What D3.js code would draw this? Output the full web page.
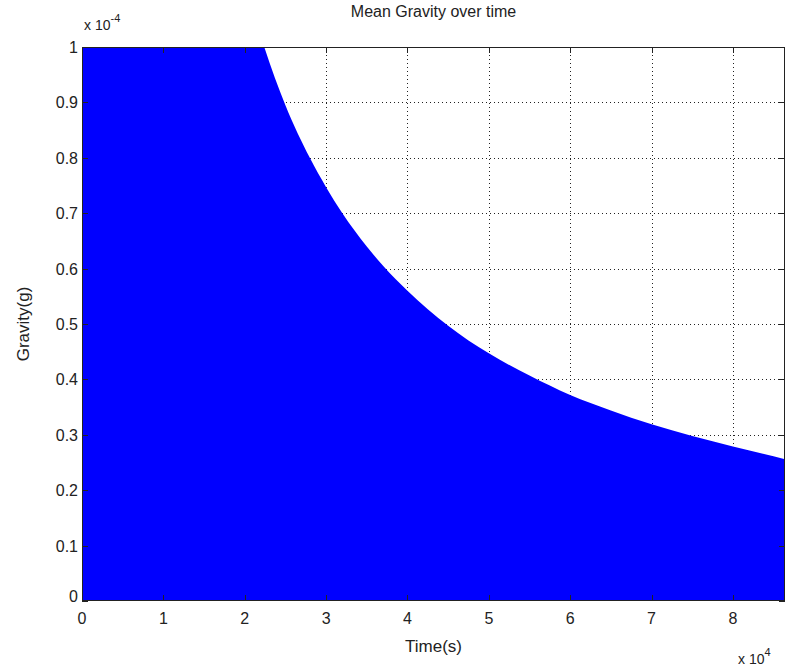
<!DOCTYPE html>
<html>
<head>
<meta charset="utf-8">
<script src="https://cdn.jsdelivr.net/npm/d3@7"></script>
<style>
  body { margin: 0; background: #fff; }
  svg { display: block; }
  text { font-family: "Liberation Sans", Arial, sans-serif; fill: #222; }
</style>
</head>
<body>
<svg id="chart" width="789" height="670"></svg>
<script>
// Time in units of 1e4 s, gravity in units of 1e-4 g
const timeValues    = [0.5, 1.0, 1.5, 2.0, 2.24, 2.5, 2.8, 3.0, 3.2, 3.5, 3.7, 4.0, 4.5, 5.0, 5.5, 6.0, 6.5, 7.0, 7.5, 8.0, 8.64];
const gravityValues = [4.5, 2.24, 1.49, 1.12, 1.0, 0.895, 0.80, 0.747, 0.70, 0.64, 0.605, 0.56, 0.497, 0.447, 0.407, 0.372, 0.344, 0.319, 0.298, 0.279, 0.256];
const xTicks = [0, 1, 2, 3, 4, 5, 6, 7, 8];
const yTicks = [0, 0.1, 0.2, 0.3, 0.4, 0.5, 0.6, 0.7, 0.8, 0.9, 1];
const xDomain = [0, 8.64];
const yDomain = [0, 1];

(function () {
const svg = d3.select("#chart");
const pL = 82, pR = 785, pT = 47, pB = 601;

const x = d3.scaleLinear().domain(xDomain).range([pL, pR]);
const y = d3.scaleLinear().domain(yDomain).range([pB, pT]);

// grid
const grid = svg.append("g").attr("stroke", "#222").attr("stroke-width", 1)
  .attr("stroke-dasharray", "1,3");
grid.selectAll(".vg").data(xTicks.filter(d => d > 0)).join("line")
  .attr("x1", d => Math.round(x(d)) + 0.5).attr("x2", d => Math.round(x(d)) + 0.5)
  .attr("y1", pT).attr("y2", pB);
grid.selectAll(".hg").data(yTicks.filter(d => d > 0 && d < 1)).join("line")
  .attr("y1", d => Math.round(y(d)) + 0.5).attr("y2", d => Math.round(y(d)) + 0.5)
  .attr("x1", pL).attr("x2", pR);

// clip
svg.append("clipPath").attr("id", "clip").append("rect")
  .attr("x", pL).attr("y", pT).attr("width", pR - pL).attr("height", pB - pT);

const data = timeValues.map((t, i) => ({t, g: gravityValues[i]}));
const fullData = [{t: 0, g: gravityValues[0]}].concat(data);

const area = d3.area()
  .x(d => x(d.t))
  .y0(y(0))
  .y1(d => y(d.g))
  .curve(d3.curveMonotoneX);

svg.append("path")
  .datum(fullData)
  .attr("clip-path", "url(#clip)")
  .attr("fill", "#0000ff")
  .attr("d", area);

// axes with inward ticks
const tickLen = 6;
const axG = svg.append("g").attr("stroke", "#222").attr("stroke-width", 1);
axG.append("rect").attr("x", pL + 0.5).attr("y", pT + 0.5)
  .attr("width", pR - pL - 1).attr("height", pB - pT - 1).attr("fill", "none");
xTicks.forEach(d => {
  const px = Math.round(x(d)) + 0.5;
  axG.append("line").attr("x1", px).attr("x2", px).attr("y1", pB).attr("y2", pB - tickLen);
  axG.append("line").attr("x1", px).attr("x2", px).attr("y1", pT).attr("y2", pT + tickLen);
});
yTicks.forEach(d => {
  const py = Math.round(y(d)) + 0.5;
  axG.append("line").attr("x1", pL).attr("x2", pL + tickLen).attr("y1", py).attr("y2", py);
  axG.append("line").attr("x1", pR).attr("x2", pR - tickLen).attr("y1", py).attr("y2", py);
});

// tick labels
svg.selectAll(".xl").data(xTicks).join("text")
  .attr("x", d => x(d)).attr("y", pB + 23)
  .attr("text-anchor", "middle").attr("font-size", 16)
  .text(d => d);
svg.selectAll(".yl").data(yTicks).join("text")
  .attr("x", pL - 4).attr("y", d => y(d) + (d === 0 ? 1 : 6))
  .attr("text-anchor", "end").attr("font-size", 16)
  .text(d => d === 0 || d === 1 ? d : d.toFixed(1));

// exponent labels
const ey = svg.append("text").attr("x", pL + 2).attr("y", 30).attr("font-size", 14);
ey.append("tspan").text("x 10");
ey.append("tspan").attr("dy", -8).attr("font-size", 11).text("-4");
const ex = svg.append("text").attr("x", 738).attr("y", 664).attr("font-size", 14);
ex.append("tspan").text("x 10");
ex.append("tspan").attr("dy", -8).attr("font-size", 11).text("4");

// titles
svg.append("text").attr("x", (pL + pR) / 2).attr("y", 17)
  .attr("text-anchor", "middle").attr("font-size", 16).text("Mean Gravity over time");
svg.append("text").attr("x", (pL + pR) / 2).attr("y", 652)
  .attr("text-anchor", "middle").attr("font-size", 17).text("Time(s)");
svg.append("text")
  .attr("transform", `translate(29, ${(pT + pB) / 2}) rotate(-90)`)
  .attr("text-anchor", "middle").attr("font-size", 17).text("Gravity(g)");
})();
</script>
</body>
</html>
